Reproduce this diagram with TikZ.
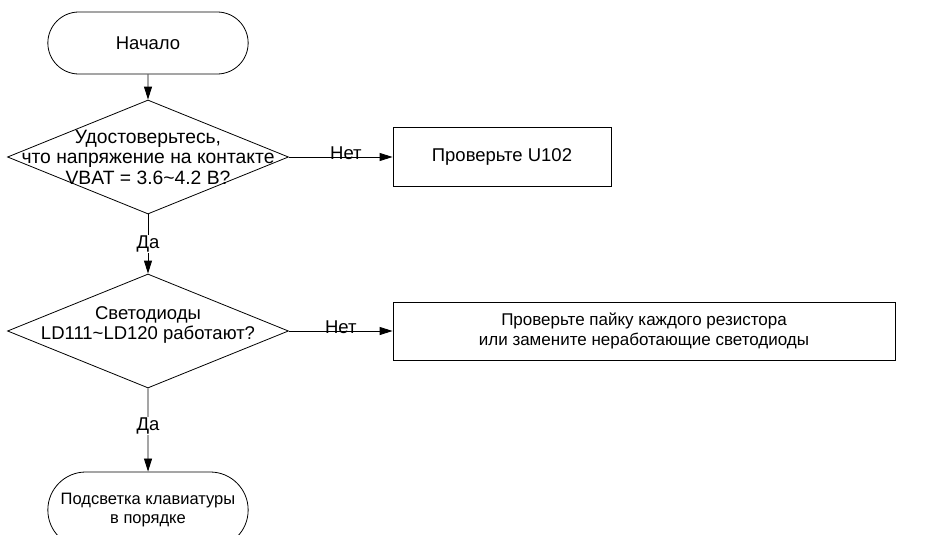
\documentclass[tikz,border=0pt]{standalone}
\usepackage{fontspec}
\setmainfont{Liberation Sans}
\usetikzlibrary{shapes.geometric,shapes.misc,arrows.meta}

\begin{document}
\begin{tikzpicture}[x=1pt, y=-1pt,
    font=\fontsize{18.5}{20.5}\selectfont,
    terminal/.style={draw, line width=0.8pt, rounded rectangle, minimum width=207pt, minimum height=62pt, align=center},
    decision/.style={draw, line width=0.8pt, diamond, minimum width=281pt, minimum height=114pt, inner sep=0pt},
    block/.style={draw, line width=0.8pt, rectangle, minimum height=59pt, align=center},
    flow/.style={-{Triangle[length=13pt,width=8pt]}, line width=0.8pt}]
    \useasboundingbox (0,0) rectangle (948,535);

    % Начало
    \node[terminal] (start) at (148,43) {Начало};

    % Проверка напряжения
    \node[decision, label={[align=center, font=\fontsize{19.3}{20.5}\selectfont]center:Удостоверьтесь,\\что напряжение на контакте\\VBAT = 3.6\textasciitilde 4.2 В?}] (vbat) at (148,157) {};
    \node[block, minimum width=218pt] (u102) at (502,157) {Проверьте U102};

    % Проверка светодиодов
    \node[decision, label={[align=center, yshift=6pt]center:Светодиоды\\LD111\textasciitilde LD120 работают?}] (leds) at (148,331) {};
    \node[block, minimum width=502pt, minimum height=58pt, font=\fontsize{17}{19.5}\selectfont] (solder) at (644,331) {Проверьте пайку каждого резистора\\или замените неработающие светодиоды};

    % Конец
    \node[terminal, minimum height=76pt, font=\fontsize{16.5}{19}\selectfont] (done) at (148,510) {Подсветка клавиатуры\\в порядке};

    % Переходы
    \draw[flow] (start) -- (vbat);
    \draw[flow] (vbat) -- node[fill=white, inner sep=1pt] {Да} (leds);
    \draw[flow] (vbat) -- node[pos=0.55, anchor=base, yshift=-2pt] {Нет} (u102);
    \draw[flow] (leds) -- node[pos=0.45, fill=white, inner sep=1pt] {Да} (done);
    \draw[flow] (leds) -- node[pos=0.5, anchor=base, yshift=-2pt] {Нет} (solder);
\end{tikzpicture}
\end{document}
